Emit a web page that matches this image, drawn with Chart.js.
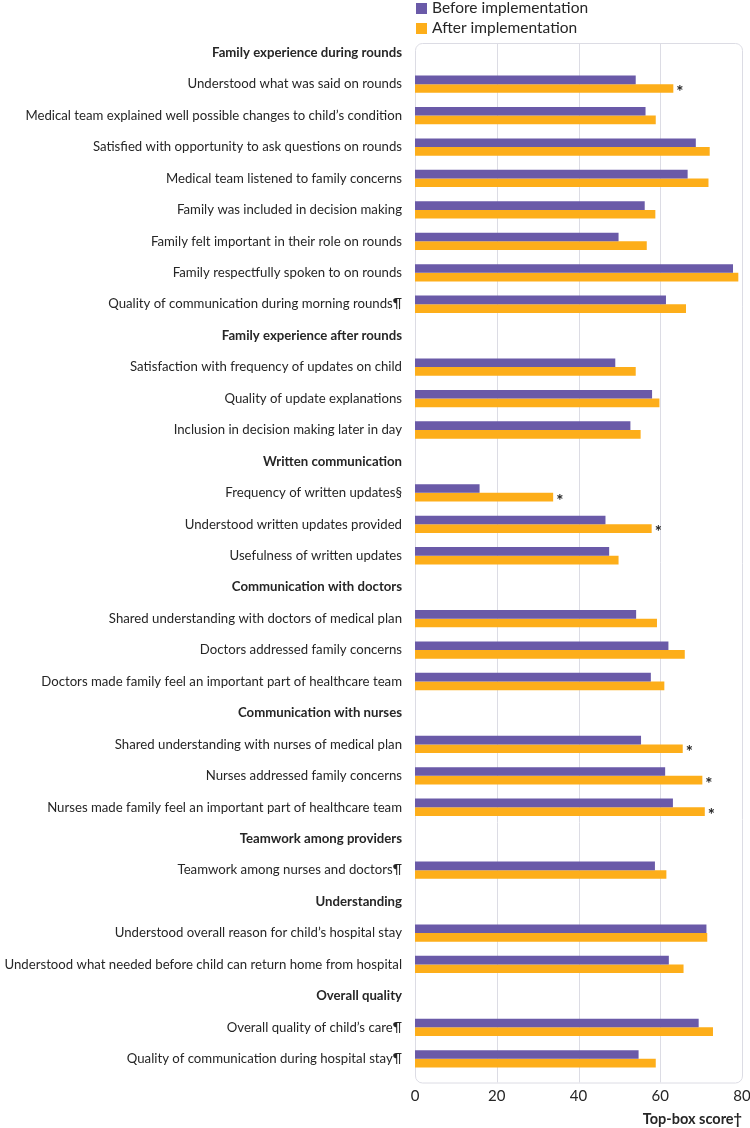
<!DOCTYPE html>
<html>
<head>
<meta charset="utf-8">
<script src="https://cdn.jsdelivr.net/npm/chart.js@4/dist/chart.umd.min.js"></script>
<style>
  body { margin: 0; background: #fff; }
  #wrap { width: 750px; height: 1128px; position: relative; }
</style>
</head>
<body>
<div id="wrap"><canvas id="chart"></canvas></div>
<script>
const categories = [
  'Family experience during rounds',
  'Understood what was said on rounds',
  'Medical team explained well possible changes to child\u2019s condition',
  'Satisfied with opportunity to ask questions on rounds',
  'Medical team listened to family concerns',
  'Family was included in decision making',
  'Family felt important in their role on rounds',
  'Family respectfully spoken to on rounds',
  'Quality of communication during morning rounds\u00b6',
  'Family experience after rounds',
  'Satisfaction with frequency of updates on child',
  'Quality of update explanations',
  'Inclusion in decision making later in day',
  'Written communication',
  'Frequency of written updates\u00a7',
  'Understood written updates provided',
  'Usefulness of written updates',
  'Communication with doctors',
  'Shared understanding with doctors of medical plan',
  'Doctors addressed family concerns',
  'Doctors made family feel an important part of healthcare team',
  'Communication with nurses',
  'Shared understanding with nurses of medical plan',
  'Nurses addressed family concerns',
  'Nurses made family feel an important part of healthcare team',
  'Teamwork among providers',
  'Teamwork among nurses and doctors\u00b6',
  'Understanding',
  'Understood overall reason for child\u2019s hospital stay',
  'Understood what needed before child can return home from hospital',
  'Overall quality',
  'Overall quality of child\u2019s care\u00b6',
  'Quality of communication during hospital stay\u00b6'
];

const sectionHeaders = [
  'Family experience during rounds',
  'Family experience after rounds',
  'Written communication',
  'Communication with doctors',
  'Communication with nurses',
  'Teamwork among providers',
  'Understanding',
  'Overall quality'
];

const beforeValues = [
  null, 54.0, 56.4, 68.7, 66.7, 56.2, 49.8, 77.8, 61.4,
  null, 49.0, 58.0, 52.7,
  null, 15.8, 46.6, 47.5,
  null, 54.1, 62.0, 57.7,
  null, 55.3, 61.2, 63.1,
  null, 58.7,
  null, 71.3, 62.1,
  null, 69.4, 54.7
];

const afterValues = [
  null, 63.2, 58.9, 72.1, 71.8, 58.8, 56.7, 79.1, 66.3,
  null, 54.0, 59.8, 55.2,
  null, 33.8, 57.9, 49.8,
  null, 59.2, 66.0, 61.0,
  null, 65.5, 70.3, 70.9,
  null, 61.5,
  null, 71.5, 65.7,
  null, 72.9, 58.9
];

// 1 = significant change (marked with *)
const significant = [
  0, 1, 0, 0, 0, 0, 0, 0, 0,
  0, 0, 0, 0,
  0, 1, 1, 0,
  0, 0, 0, 0,
  0, 1, 1, 1,
  0, 0,
  0, 0, 0,
  0, 0, 0
];

const xTicks = [0, 20, 40, 60, 80];
const seriesNames = ['Before implementation', 'After implementation'];
const seriesColors = ['#6a5aa8', '#fdae1a'];

const FONT = 'Lato, "Open Sans", sans-serif';
const TEXT = '#262626';

// rounded frame + vertical grid, drawn behind the bars
const framePlugin = {
  id: 'frame',
  beforeDatasetsDraw(chart) {
    const { ctx, chartArea: a, scales: { x } } = chart;
    const top = a.top + 6, bottom = a.bottom + 8;
    ctx.save();
    ctx.strokeStyle = '#dcdce4';
    ctx.lineWidth = 1;
    xTicks.slice(1, -1).forEach(v => {
      const px = Math.round(x.getPixelForValue(v)) + 0.5;
      ctx.beginPath();
      ctx.moveTo(px, top);
      ctx.lineTo(px, bottom);
      ctx.stroke();
    });
    ctx.beginPath();
    ctx.roundRect(a.left + 0.5, top + 0.5, a.right - a.left, bottom - top, 7);
    ctx.stroke();
    ctx.restore();
  }
};

// asterisks and stacked legend
const extrasPlugin = {
  id: 'extras',
  afterDatasetsDraw(chart) {
    const { ctx, chartArea: a } = chart;
    const meta = chart.getDatasetMeta(1);
    ctx.save();
    ctx.fillStyle = TEXT;
    ctx.font = 'bold 17px ' + FONT;
    ctx.textAlign = 'left';
    ctx.textBaseline = 'middle';
    significant.forEach((s, i) => {
      if (!s) return;
      const bar = meta.data[i];
      ctx.fillText('*', bar.x + 3, bar.y + 4);
    });

    ctx.font = '15.5px ' + FONT;
    seriesNames.forEach((name, i) => {
      const y = 8 + i * 20;
      ctx.fillStyle = seriesColors[i];
      ctx.fillRect(a.left + 1, y - 5, 11, 11);
      ctx.fillStyle = TEXT;
      ctx.fillText(name, a.left + 17, y);
    });
    ctx.restore();
  }
};

new Chart(document.getElementById('chart'), {
  type: 'bar',
  data: {
    labels: categories,
    datasets: [
      { label: seriesNames[0], data: beforeValues, backgroundColor: seriesColors[0] },
      { label: seriesNames[1], data: afterValues, backgroundColor: seriesColors[1] }
    ]
  },
  options: {
    indexAxis: 'y',
    responsive: true,
    maintainAspectRatio: false,
    animation: false,
    layout: { padding: { top: 37, right: 0, left: 0, bottom: 0 } },
    datasets: { bar: { barPercentage: 1, categoryPercentage: 0.55 } },
    plugins: { legend: { display: false }, tooltip: { enabled: false } },
    scales: {
      x: {
        min: 0,
        max: 80,
        afterBuildTicks: s => { s.ticks = xTicks.map(v => ({ value: v })); },
        afterFit: s => { s.height = 1128 - 1074.5; s.paddingRight = 8; },
        grid: { display: false },
        border: { display: false },
        ticks: { color: TEXT, padding: 5, font: { family: FONT, size: 15 } },
        title: {
          display: true,
          text: 'Top-box score\u2020',
          align: 'end',
          color: TEXT,
          padding: { top: 3, bottom: 0 },
          font: { family: FONT, size: 14.5, weight: 'bold' }
        }
      },
      y: {
        afterFit: s => { s.width = 415; },
        grid: { display: false, drawTicks: false },
        border: { display: false },
        ticks: {
          color: TEXT,
          padding: 13,
          autoSkip: false,
          font: c => ({
            family: FONT,
            size: 13.2,
            weight: sectionHeaders.includes(categories[c.index]) ? 'bold' : 'normal'
          })
        }
      }
    }
  },
  plugins: [framePlugin, extrasPlugin]
});
</script>
</body>
</html>
